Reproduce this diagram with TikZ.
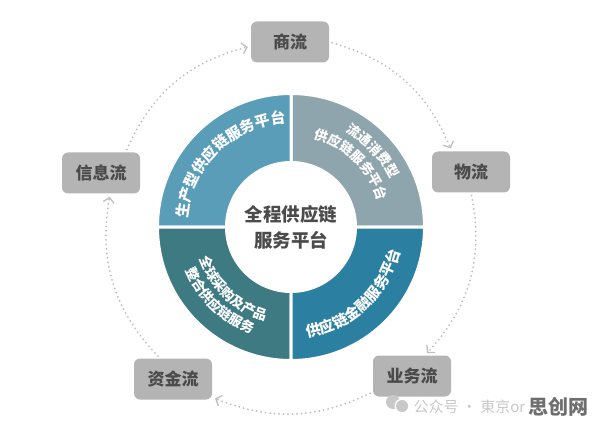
\documentclass[tikz,border=0pt]{standalone}
\usepackage{fontspec}
\usepackage{xcolor}
\usepackage{tikz}
\usetikzlibrary{arrows.meta,decorations.text,calc}
\newfontfamily\cjk{Noto Sans CJK SC}
\definecolor{ringTL}{RGB}{90,157,185}
\definecolor{ringTR}{RGB}{143,165,173}
\definecolor{ringBL}{RGB}{62,122,130}
\definecolor{ringBR}{RGB}{43,127,160}
\definecolor{boxgray}{RGB}{180,180,180}
\definecolor{boxtext}{RGB}{75,75,75}
\definecolor{dotgray}{RGB}{190,190,190}
\definecolor{wmgray}{RGB}{200,200,200}
\definecolor{wmdark}{RGB}{110,110,110}
\newcommand{\ringfont}{\cjk\bfseries\fontsize{15}{15}\selectfont}
\newcommand{\pairfont}{\cjk\bfseries\fontsize{13.5}{13.5}\selectfont}

\begin{document}
\begin{tikzpicture}[x=1pt, y=1pt,
  box/.style={fill=boxgray, rounded corners=6pt, minimum width=78pt, minimum height=41pt,
    inner sep=0pt, text=boxtext, font=\cjk\bfseries\fontsize{17}{17}\selectfont},
  flow/.style={draw=dotgray, line width=2pt, line cap=round, dash pattern=on 0pt off 4.5pt,
    -{Straight Barb[length=5pt,width=11pt,line width=1.3pt]}, shorten <=3pt, shorten >=3pt},
  arctext/.style={decorate, decoration={text along path, text align=center,
    text color=white, text={#1}}}]
\useasboundingbox (0,0) rectangle (596,426);
\coordinate (o) at (291,199);
% ring of four platforms
\foreach \a/\c in {0/ringTR,90/ringTL,180/ringBL,270/ringBR}
  \filldraw[fill=\c, draw=white, line width=3pt]
    ($(o)+(\a:64.5)$) -- ($(o)+(\a:133.5)$) arc[start angle=\a, end angle=\a+90, radius=133.5]
    -- ($(o)+(\a+90:64.5)$) arc[start angle=\a+90, end angle=\a, radius=64.5] -- cycle;
\node[text=boxtext, align=center, font=\cjk\bfseries\fontsize{18.5}{26}\selectfont] (core) at (o) {全程供应链\\服务平台};
\path[arctext={|\ringfont|生产型供应链服务平台}] ($(o)+(184:104)$) arc[start angle=184, end angle=84, radius=104];
\path[arctext={|\pairfont|流通消费型}] ($(o)+(73:110)$) arc[start angle=73, end angle=13, radius=110];
\path[arctext={|\pairfont|供应链服务平台}] ($(o)+(86:91)$) arc[start angle=86, end angle=6, radius=91];
\path[arctext={|\pairfont|全球采购及产品}] ($(o)+(187:97)$) arc[start angle=187, end angle=267, radius=97];
\path[arctext={|\pairfont|整合供应链服务}] ($(o)+(186:114)$) arc[start angle=186, end angle=266, radius=114];
\path[arctext={|\ringfont|供应链金融服务平台}] ($(o)+(-87:111.5)$) arc[start angle=-87, end angle=-7, radius=111.5];
% five flows
\node[box] (shang) at (290,384) {商流};
\node[box] (wu) at (471,254) {物流};
\node[box] (yewu) at (412,50) {业务流};
\node[box] (zijin) at (173,47) {资金流};
\node[box] (xinxi) at (101,253) {信息流};
\draw[flow] (xinxi.40) to[bend left=26] (shang.186);
\draw[flow] (shang.east) to[bend left=26] (wu.133);
\draw[flow] (wu.south) to[bend left=27] (yewu.58);
\draw[flow] (yewu.202) to[bend left=24] (zijin.-25);
\draw[flow] (zijin.122) to[bend left=27] (xinxi.-66);
% watermark
\fill[wmgray] (393,24) circle (7);
\fill[white] (402,20) circle (7.5);
\fill[wmgray] (402,20) circle (6);
\node[anchor=west, text=wmgray, font=\cjk\fontsize{15}{15}\selectfont] (wm) at (410,19) {公众号 · 東京or};
\node[anchor=east, text=wmdark, font=\cjk\bfseries\fontsize{20}{20}\selectfont] (site) at (592,19) {思创网};
\end{tikzpicture}
\end{document}
